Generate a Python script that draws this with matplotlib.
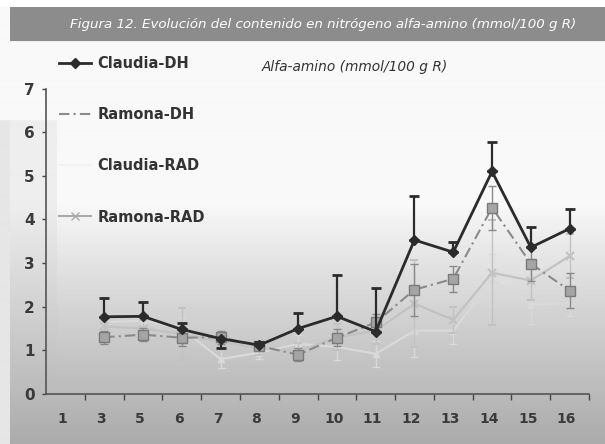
import numpy as np
import matplotlib
matplotlib.use("Agg")
import matplotlib.pyplot as plt
import matplotlib.transforms as mtransforms
from matplotlib.lines import Line2D

categories = ["1", "3", "5", "6", "7", "8", "9", "10", "11", "12", "13", "14", "15", "16"]
# values for categories 3..16 (no data at 1)
claudia_dh = [1.77, 1.78, 1.48, 1.27, 1.12, 1.50, 1.78, 1.43, 3.53, 3.25, 5.10, 3.36, 3.79]
claudia_dh_err_up = [0.43, 0.32, 0.15, 0.00, 0.08, 0.35, 0.95, 1.00, 1.00, 0.24, 0.67, 0.47, 0.45]
claudia_dh_err_dn = [0.00, 0.00, 0.00, 0.21, 0.00, 0.00, 0.00, 0.00, 0.00, 0.00, 0.00, 0.00, 0.00]
ramona_dh = [1.30, 1.36, 1.29, 1.30, 1.10, 0.90, 1.29, 1.64, 2.39, 2.64, 4.27, 2.99, 2.37]
ramona_dh_err = [0.15, 0.15, 0.20, 0.15, 0.10, 0.15, 0.20, 0.20, 0.60, 0.30, 0.50, 0.40, 0.40]
claudia_rad = [1.65, 1.68, 1.50, 0.80, 0.95, 1.15, 1.08, 0.92, 1.45, 1.45, 2.62, 2.05, 2.08]
claudia_rad_err = [0.20, 0.20, 0.25, 0.20, 0.15, 0.20, 0.30, 0.30, 0.60, 0.30, 0.60, 0.45, 0.30]
ramona_rad = [1.55, 1.50, 1.38, 1.20, 1.05, 0.97, 1.30, 1.45, 2.07, 1.70, 2.78, 2.60, 3.16]
ramona_rad_err = [0.20, 0.20, 0.60, 0.20, 0.15, 0.20, 0.30, 0.30, 1.00, 0.30, 1.20, 0.45, 0.50]
series_names = ["Claudia-DH", "Ramona-DH", "Claudia-RAD", "Ramona-RAD"]
title = "Figura 12. Evolución del contenido en nitrógeno alfa-amino (mmol/100 g R)"
subtitle = "Alfa-amino (mmol/100 g R)"

W, H = 605, 444
fig = plt.figure(figsize=(W / 100, H / 100), dpi=100)

# background
bg = fig.add_axes([0, 0, 1, 1], zorder=-10)
yy, xx = np.mgrid[0:H, 0:W].astype(float)
t = np.clip((yy - 205) / (440 - 205), 0, 1)
img = 0.975 - 0.30 * t ** 0.9
left = (xx < 57) & (yy > 120)
img[left] = np.minimum(img[left], 0.93 - 0.25 * np.clip((yy[left] - 205) / 235, 0, 1))
img[(xx < 10) & (yy > 120)] = 0.90
img[yy < 8] = 1.0
img[(yy >= 8) & (yy <= 41) & (xx >= 10)] = 0.55
bg.imshow(img, cmap="gray", vmin=0, vmax=1, aspect="auto", extent=[0, W, H, 0], interpolation="bilinear")
bg.set_axis_off()

fig.text(323 / W, 1 - 24.5 / H, title, color="white", style="italic", fontsize=9.65,
         ha="center", va="center")

ax = fig.add_axes([46 / W, 1 - 394 / H, 543 / W, (394 - 88.6) / H])
ax.patch.set_alpha(0)
x = np.arange(1, len(categories))

ax.errorbar(x, claudia_rad, yerr=claudia_rad_err, color="#d9d9d9", lw=1.6, marker="^",
            ms=5, capsize=3, elinewidth=1, zorder=2)
ax.errorbar(x, ramona_rad, yerr=ramona_rad_err, color="#c2c2c2", lw=1.6, marker="x",
            ms=6, mew=1.5, capsize=3, elinewidth=1, zorder=3)
ax.errorbar(x, ramona_dh, yerr=ramona_dh_err, color="#8a8a8a", lw=1.5, ls=(0, (5, 2, 1, 2)),
            marker="s", ms=7, mfc="#a5a5a5", mec="#7a7a7a", capsize=3, elinewidth=1, zorder=4)
ax.errorbar(x, claudia_dh, yerr=[claudia_dh_err_dn, claudia_dh_err_up], color="#2b2b2b", lw=2.0,
            marker="D", ms=5, capsize=3.5, capthick=2, elinewidth=1.6, zorder=5)

ax.set_xlim(-0.5, len(categories) - 0.5)
ax.set_ylim(0, 7)
ax.set_xticks(np.arange(len(categories)))
ax.set_xticklabels(categories)
ax.set_xticks(np.arange(len(categories)) + 0.5, minor=True)
ax.tick_params(axis="x", which="major", length=0, pad=13, labelsize=10, labelcolor="#3a3a3a")
ax.tick_params(axis="x", which="minor", length=4, width=1, color="#444444")
ax.set_yticks(range(0, 8))
ax.tick_params(axis="y", length=3, width=1, color="#444444", pad=5, labelsize=11,
               labelcolor="#3a3a3a")
shift = mtransforms.ScaledTranslation(-3 / 100, 0, fig.dpi_scale_trans)
for lab in ax.get_xticklabels():
    lab.set_transform(lab.get_transform() + shift)
for lab in ax.get_xticklabels() + ax.get_yticklabels():
    lab.set_fontweight("bold")
for s in ["top", "right"]:
    ax.spines[s].set_visible(False)
ax.spines["left"].set_color("#555555")
ax.spines["bottom"].set_color("#555555")
ax.spines["left"].set_linewidth(1.2)
ax.spines["bottom"].set_linewidth(1.2)

handles = [
    Line2D([], [], color="#2b2b2b", lw=2.0, marker="D", ms=5),
    Line2D([], [], color="#8a8a8a", lw=1.5, ls=(0, (5, 2, 1, 2))),
    Line2D([], [], color="#f2f2f2", lw=1.5),
    Line2D([], [], color="#aaaaaa", lw=1.5, marker="x", ms=6),
]
leg = fig.legend(handles, series_names, loc="upper left", bbox_to_anchor=(59 / W, 1 - 56 / H),
                 frameon=False, borderpad=0, borderaxespad=0, labelspacing=2.48,
                 handlelength=2.2, handletextpad=0.45, fontsize=10.5)
for txt in leg.get_texts():
    txt.set_color("#333333")
    txt.set_fontweight("bold")

fig.text(262 / W, 1 - 67 / H, subtitle, style="italic", fontsize=9.9, color="#333333",
         ha="left", va="center")

fig.savefig("out.png", dpi=100)
